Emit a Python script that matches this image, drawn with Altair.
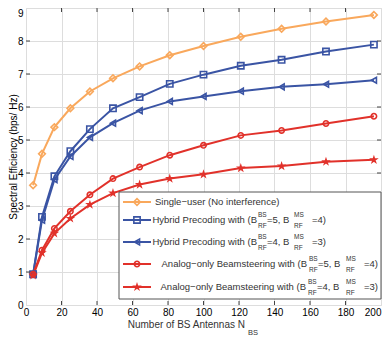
import altair as alt
import pandas as pd

# ---- data ----
N_BS = [4, 9, 16, 25, 36, 49, 64, 81, 100, 121, 144, 169, 196]
single_user = [3.63, 4.58, 5.39, 5.96, 6.47, 6.87, 7.23, 7.57, 7.85, 8.13, 8.37, 8.59, 8.79]
hybrid_54 = [0.93, 2.67, 3.90, 4.66, 5.33, 5.96, 6.30, 6.70, 6.98, 7.25, 7.43, 7.68, 7.89]
hybrid_43 = [0.93, 2.57, 3.80, 4.50, 5.08, 5.51, 5.89, 6.17, 6.32, 6.48, 6.61, 6.69, 6.81]
analog_54 = [0.93, 1.66, 2.32, 2.84, 3.34, 3.83, 4.18, 4.54, 4.84, 5.14, 5.29, 5.50, 5.72]
analog_43 = [0.90, 1.58, 2.17, 2.62, 3.04, 3.39, 3.65, 3.83, 3.96, 4.15, 4.21, 4.34, 4.40]

series_names = ["su", "h54", "h43", "a54", "a43"]
series_values = [single_user, hybrid_54, hybrid_43, analog_54, analog_43]
x_ticks = [0, 20, 40, 60, 80, 100, 120, 140, 160, 180, 200]
y_ticks = [0, 1, 2, 3, 4, 5, 6, 7, 8, 9]

# ---- styles ----
ORANGE = "#F9A85C"
BLUE = "#3A54A4"
RED = "#E1312A"
colors = [ORANGE, BLUE, BLUE, RED, RED]
STAR = "M0,-1L0.2245,-0.309L0.951,-0.309L0.363,0.118L0.588,0.809L0,0.382L-0.588,0.809L-0.363,0.118L-0.951,-0.309L-0.2245,-0.309Z"
shapes = ["diamond", "square", "triangle-left", "circle", STAR]
fills = ["transparent", "transparent", "transparent", "transparent", RED]
sizes = [45, 24, 34, 28, 70]
FONT = "Liberation Sans, Arial, sans-serif"
TXT = "#333333"
LFS = 9.5  # legend font size

W, H = 355, 297

rows = []
for name, vals in zip(series_names, series_values):
    for n, v in zip(N_BS, vals):
        rows.append({"series": name, "N": n, "SE": v})
df = pd.DataFrame(rows)

xs = alt.Scale(domain=[0, 200], nice=False)
ys = alt.Scale(domain=[0, 9], nice=False)
color_scale = alt.Scale(domain=series_names, range=colors)
shape_scale = alt.Scale(domain=series_names, range=shapes)
fill_scale = alt.Scale(domain=series_names, range=fills)
size_scale = alt.Scale(domain=series_names, range=sizes)

x_axis = alt.Axis(values=x_ticks, title=None, labelPadding=2, labelOverlap=False, labelFlush=False,
                  labelAlign={"expr": "datum.value == 200 ? 'right' : 'center'"},
                  grid=True, ticks=False, domain=False)
y_axis = alt.Axis(values=y_ticks, title="Spectral Efficiency (bps/ Hz)",
                  titleX=-13, titleY=H / 2, titleAngle=270,
                  titleAlign="center", titleBaseline="middle",
                  titleFontWeight="normal", titleFontSize=10,
                  labelPadding=3, labelOverlap=False, labelFlush=False,
                  labelBaseline={"expr": "datum.value == 9 ? 'top' : 'middle'"},
                  grid=True, ticks=False, domain=False)

def X(field):
    return alt.X(field, scale=xs, axis=x_axis, title=None)

def Y(field):
    return alt.Y(field, scale=ys, axis=y_axis, title="Spectral Efficiency (bps/ Hz)")

base = alt.Chart(df)
lines = base.mark_line(strokeWidth=2).encode(
    x=X("N:Q"), y=Y("SE:Q"),
    stroke=alt.Stroke("series:N", scale=color_scale, legend=None),
    detail="series:N",
)
points = base.mark_point(strokeWidth=1.6, opacity=1).encode(
    x=X("N:Q"), y=Y("SE:Q"),
    shape=alt.Shape("series:N", scale=shape_scale, legend=None),
    stroke=alt.Stroke("series:N", scale=color_scale, legend=None),
    fill=alt.Fill("series:N", scale=fill_scale, legend=None),
    size=alt.Size("series:N", scale=size_scale, legend=None),
)

# inward ticks
xt = alt.Chart(pd.DataFrame({"t": x_ticks[1:-1]}))
yt = alt.Chart(pd.DataFrame({"t": y_ticks[1:-1]}))
tick_layers = [
    xt.mark_rule(color="#444", strokeWidth=1).encode(x=X("t:Q"), y=alt.value(H), y2=alt.value(H - 4)),
    xt.mark_rule(color="#444", strokeWidth=1).encode(x=X("t:Q"), y=alt.value(0), y2=alt.value(4)),
    yt.mark_rule(color="#444", strokeWidth=1).encode(y=Y("t:Q"), x=alt.value(0), x2=alt.value(4)),
    yt.mark_rule(color="#444", strokeWidth=1).encode(y=Y("t:Q"), x=alt.value(W), x2=alt.value(W - 4)),
]

one = alt.Chart(pd.DataFrame({"k": [0]}))

# legend
legend_layers = [
    one.mark_rect(fill="white", stroke="#555", strokeWidth=1).encode(
        x=alt.value(93), x2=alt.value(W), y=alt.value(184), y2=alt.value(291))
]
row_y = [194, 212, 234, 256, 279]
for i, (name, col) in enumerate(zip(series_names, colors)):
    ry = row_y[i]
    legend_layers.append(one.mark_rule(color=col, strokeWidth=2).encode(
        x=alt.value(97), x2=alt.value(125), y=alt.value(ry)))
    legend_layers.append(alt.Chart(pd.DataFrame({"series": [name]})).mark_point(strokeWidth=1.6, opacity=1).encode(
        x=alt.value(111), y=alt.value(ry),
        shape=alt.Shape("series:N", scale=shape_scale, legend=None),
        stroke=alt.Stroke("series:N", scale=color_scale, legend=None),
        fill=alt.Fill("series:N", scale=fill_scale, legend=None),
        size=alt.Size("series:N", scale=size_scale, legend=None),
    ))

def txt(s, x, y, size=LFS, align="left", baseline="middle"):
    return one.mark_text(text=s, font=FONT, fontSize=size, color=TXT, align=align, baseline=baseline).encode(
        x=alt.value(x), y=alt.value(y))

legend_layers.append(txt("Single\u2212user (No interference)", 129, row_y[0]))

label_specs = [
    # prefix, prefix_end, sup1_x, mid, mid_x, sup2_x, suffix, suffix_x
    ("Hybrid Precoding with (B", 231, 232, "=5, B", 241, 268, "=4)", 286),
    ("Hybrid Precoding with (B", 231, 232, "=4, B", 241, 268, "=3)", 286),
    ("Analog\u2212only Beamsteering with (B", 281, 283, "=5, B", 292, 320, "=4)", 338),
    ("Analog\u2212only Beamsteering with (B", 280, 282, "=4, B", 291, 320, "=3)", 338),
]
for i, (pre, pre_end, s1, mid, mid_x, s2, suf, suf_x) in enumerate(label_specs):
    ry = row_y[i + 1]
    legend_layers += [
        txt(pre, pre_end, ry, align="right"),
        txt("BS", s1, ry - 5.5, size=6.5),
        txt("RF", s1, ry + 6, size=6.5),
        txt(mid, mid_x, ry),
        txt("MS", s2, ry - 5.5, size=6.5),
        txt("RF", s2, ry + 6, size=6.5),
        txt(suf, suf_x, ry),
    ]

xtitle = [
    txt("Number of BS Antennas N", 219, 320, size=10, align="right", baseline="alphabetic"),
    txt("BS", 222, 325, size=7.5),
]

chart = alt.layer(lines, points, *tick_layers, *legend_layers, *xtitle).properties(
    width=W, height=H,
    autosize=alt.AutoSizeParams(type="none"),
    padding={"left": 18, "top": 0, "right": 1, "bottom": 32},
).configure_view(stroke="#444", strokeWidth=1).configure_axis(
    gridColor="#BBBBBB", gridDash=[1, 3], gridWidth=1,
    labelFont=FONT, labelFontSize=10, labelColor=TXT,
    titleFont=FONT, titleFontSize=10, titleColor=TXT, titleFontWeight="normal",
).configure(background="white")

chart.save("out.html", embed_options={"renderer": "svg", "actions": False})
